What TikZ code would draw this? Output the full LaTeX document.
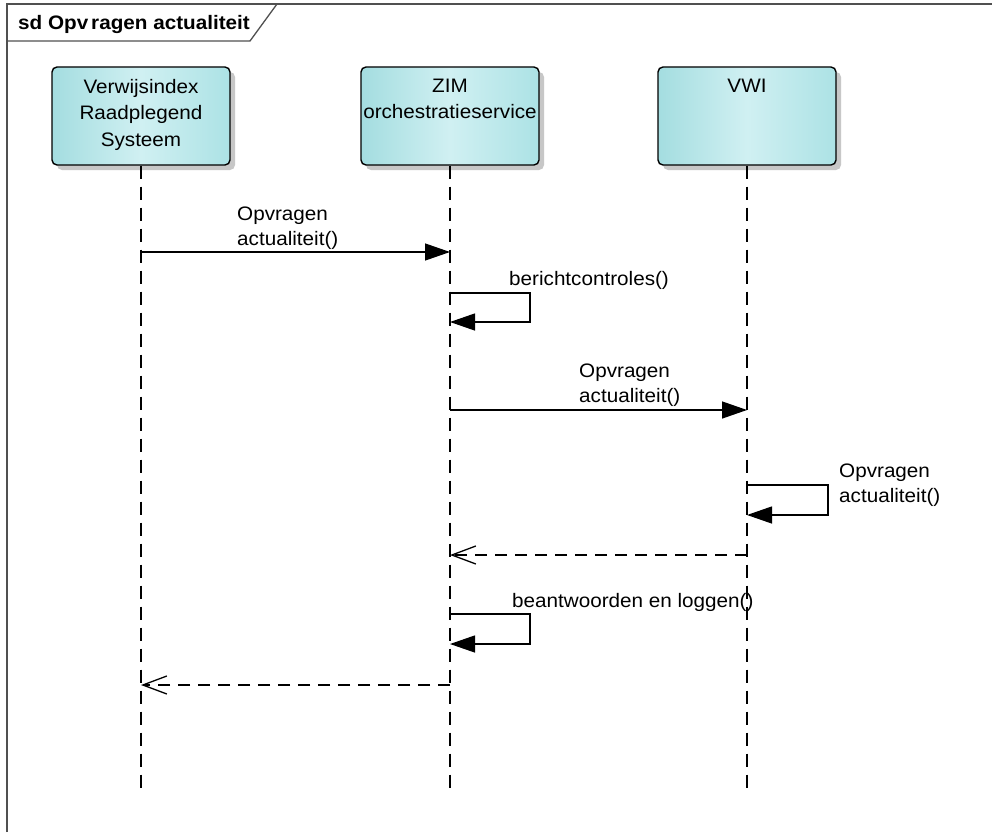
\documentclass[tikz,border=0pt]{standalone}
\usepackage{fontspec}
\setmainfont[FakeStretch=1.06]{Liberation Sans}
\usetikzlibrary{arrows.meta,shadows}
\definecolor{boxL}{RGB}{164,221,224}
\definecolor{boxM}{RGB}{208,240,242}
\definecolor{boxR}{RGB}{172,226,229}
\definecolor{framec}{RGB}{80,80,80}
\begin{document}
\begin{tikzpicture}[x=1pt,y=-1pt,
  lifebox/.style={draw=black, line width=1.4pt, rounded corners=5pt,
    minimum width=178pt, minimum height=98pt, inner sep=0pt,
    left color=boxL, right color=boxR, middle color=boxM,
    drop shadow={shadow xshift=5pt, shadow yshift=-5pt, fill=black!22, opacity=1},
    font=\fontsize{19.5}{26.5}\selectfont},
  lifeline/.style={line width=1.6pt, dash pattern=on 13pt off 8pt},
  msg/.style={line width=1.3pt, -{Triangle[length=25pt,width=17pt]}},
  reply/.style={line width=1.3pt, dash pattern=on 12pt off 8pt,
    -{Straight Barb[length=24pt,width=18pt,line width=1.3pt]}},
  lbl/.style={anchor=base west, inner sep=0pt, font=\fontsize{19.5}{25}\selectfont}]
\useasboundingbox (0,0) rectangle (992,832);
\fill[white] (0,0) rectangle (992,832);
% frame
\draw[framec, line width=2pt] (7,832) -- (7,4) -- (992,4);
\draw[framec, line width=1.3pt] (7,41) -- (250,41) -- (277,4);
\node[anchor=base west, inner sep=0pt, font=\bfseries\fontsize{19.5}{24}\selectfont] (title) at (18,29.5) {sd Opv\kern3pt ragen actualiteit};
% lifeline heads
\node[lifebox] (vrs) at (141,116) {\parbox[c][98pt][t]{178pt}{\centering\vspace*{12pt}Verwijsindex\\Raadplegend\\Systeem}};
\node[lifebox] (zim) at (450,116) {\parbox[c][98pt][t]{178pt}{\centering\vspace*{12pt}ZIM\\orchestratieservice}};
\node[lifebox] (vwi) at (747,116) {\parbox[c][98pt][t]{178pt}{\centering\vspace*{12pt}VWI}};
% lifelines
\coordinate (vrsEnd) at (141,790);
\coordinate (zimEnd) at (450,790);
\coordinate (vwiEnd) at (747,790);
\draw[lifeline] (vrs.south) -- (vrsEnd);
\draw[lifeline] (zim.south) -- (zimEnd);
\draw[lifeline] (vwi.south) -- (vwiEnd);
% message points
\coordinate (m1s) at (141,252); \coordinate (m1e) at (450,252);
\coordinate (s1a) at (450,293); \coordinate (s1b) at (450,322);
\coordinate (m3s) at (450,410); \coordinate (m3e) at (747,410);
\coordinate (s4a) at (747,485); \coordinate (s4b) at (747,515);
\coordinate (r5s) at (747,555); \coordinate (r5e) at (450,555);
\coordinate (s6a) at (450,614); \coordinate (s6b) at (450,644);
\coordinate (r7s) at (450,685); \coordinate (r7e) at (141,685);
% messages
\draw[msg] (m1s) -- (m1e);
\draw[msg] (s1a) -- ++(80,0) |- (s1b);
\draw[msg] (m3s) -- (m3e);
\draw[msg] (s4a) -- ++(81,0) |- (s4b);
\draw[reply] (r5s) -- (r5e);
\draw[msg] (s6a) -- ++(80,0) |- (s6b);
\draw[reply] (r7s) -- (r7e);
% labels
\node[lbl] (l1a) at (237,220) {Opvragen};
\node[lbl] (l1b) at (237,245) {actualiteit()};
\node[lbl] (l2) at (509,285) {berichtcontroles()};
\node[lbl] (l3a) at (579,377) {Opvragen};
\node[lbl] (l3b) at (579,402) {actualiteit()};
\node[lbl] (l4a) at (839,477) {Opvragen};
\node[lbl] (l4b) at (839,502) {actualiteit()};
\node[lbl] (l6) at (512,607) {beantwoorden en loggen()};
\end{tikzpicture}
\end{document}
